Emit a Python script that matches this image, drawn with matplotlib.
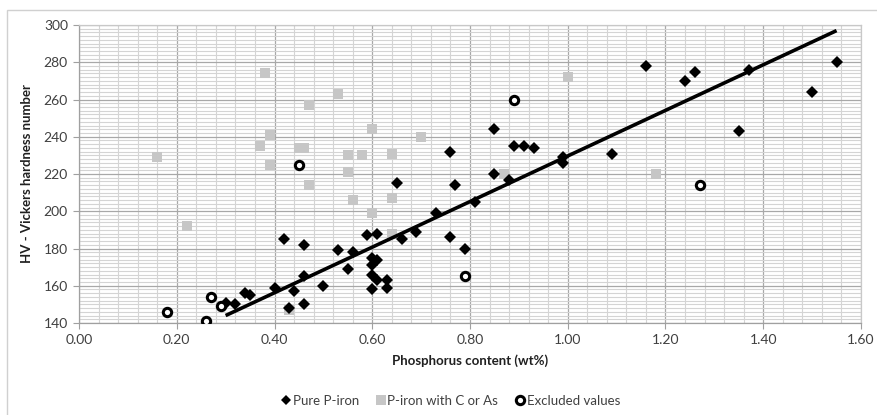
import matplotlib
matplotlib.use("Agg")
import matplotlib.pyplot as plt
from matplotlib.patches import Rectangle
from matplotlib.ticker import MultipleLocator, FormatStrFormatter
from matplotlib.lines import Line2D

# ---- data ----
pure_x = [0.30, 0.32, 0.34, 0.35, 0.40, 0.42, 0.43, 0.44, 0.46, 0.46, 0.46, 0.50,
          0.53, 0.55, 0.56, 0.59, 0.60, 0.60, 0.60, 0.60, 0.61, 0.61, 0.61, 0.63,
          0.63, 0.65, 0.66, 0.69, 0.73, 0.76, 0.76, 0.77, 0.79, 0.81, 0.85, 0.85,
          0.88, 0.89, 0.91, 0.93, 0.99, 0.99, 1.09, 1.16, 1.24, 1.26, 1.35, 1.37,
          1.50, 1.55]
pure_y = [151, 150, 156, 155, 159, 185, 148, 157, 182, 165, 150, 160,
          179, 169, 178, 187, 175, 171, 166, 158, 188, 174, 163, 163,
          159, 215, 185, 189, 199, 186, 232, 214, 180, 205, 244, 220,
          217, 235, 235, 234, 229, 226, 231, 278, 270, 275, 243, 276,
          264, 280]

carb_x = [0.16, 0.22, 0.37, 0.38, 0.39, 0.39, 0.43, 0.45, 0.46, 0.47, 0.47, 0.53,
          0.55, 0.55, 0.56, 0.58, 0.60, 0.60, 0.64, 0.64, 0.64, 0.70, 0.87, 1.00,
          1.18]
carb_y = [229, 192, 235, 274, 241, 225, 147, 234, 234, 257, 214, 263,
          230, 221, 206, 230, 244, 199, 231, 207, 188, 240, 220, 272,
          220]

excl_x = [0.18, 0.26, 0.27, 0.29, 0.45, 0.79, 0.89, 1.27]
excl_y = [146, 141, 154, 149, 225, 165, 260, 214]

trend_x = [0.30, 1.55]
trend_y = [144, 297]

x_ticks = [0.00, 0.20, 0.40, 0.60, 0.80, 1.00, 1.20, 1.40, 1.60]
y_ticks = [140, 160, 180, 200, 220, 240, 260, 280, 300]

legend_labels = ["Pure P-iron", "P-iron with C or As", "Excluded values"]
x_label = "Phosphorus content (wt%)"
y_label = "HV - Vickers hardness number"

# ---- figure ----
plt.rcParams['font.family'] = ['Lato', 'DejaVu Sans']
W, H = 878, 415
fig = plt.figure(figsize=(W / 100, H / 100), dpi=100)
ax = fig.add_axes([79 / W, 1 - 323 / H, (861 - 79) / W, (323 - 25) / H])

# chart area border
fig.patches.append(Rectangle((7 / W, -0.2), 1.2, 1.2 - 10 / H, transform=fig.transFigure,
                             fill=False, edgecolor='#d0d0d0', linewidth=1.0))

ax.set_xlim(0, 1.6)
ax.set_ylim(140, 300)
ax.xaxis.set_minor_locator(MultipleLocator(0.04))
ax.yaxis.set_minor_locator(MultipleLocator(2))
ax.set_xticks(x_ticks)
ax.set_yticks(y_ticks)
ax.xaxis.set_major_formatter(FormatStrFormatter('%.2f'))

ax.grid(which='major', color='#a8a8a8', linewidth=0.9)
ax.grid(which='minor', color='#d4d4d4', linewidth=0.8)
ax.set_axisbelow(True)

for s in ax.spines.values():
    s.set_color('#c8c8c8')
    s.set_linewidth(0.9)
ax.spines['left'].set_color('#a0a0a0')
ax.spines['bottom'].set_color('#a0a0a0')

ax.tick_params(which='major', length=4, color='#a0a0a0', labelsize=10,
               labelcolor='#404040', pad=4)
ax.tick_params(which='minor', length=0)

ax.plot(carb_x, carb_y, linestyle='none', marker='s', markersize=7.2,
        color='#c6c6c6', markeredgewidth=0, zorder=3)
ax.plot(pure_x, pure_y, linestyle='none', marker='D', markersize=6.5,
        color='black', markeredgewidth=0, zorder=4)
ax.plot(excl_x, excl_y, linestyle='none', marker='o', markersize=6,
        markerfacecolor='white', markeredgecolor='black', markeredgewidth=2.2, zorder=5)
ax.plot(trend_x, trend_y, color='black', linewidth=2.6, solid_capstyle='butt', zorder=6)

ax.set_xlabel(x_label, fontsize=9.5, fontweight='bold', color='#202020', labelpad=6)
ax.set_ylabel(y_label, fontsize=9.5, fontweight='bold', color='#202020', labelpad=8)

handles = [
    Line2D([], [], linestyle='none', marker='D', markersize=5, color='black', markeredgewidth=0),
    Line2D([], [], linestyle='none', marker='s', markersize=7.2, color='#c6c6c6', markeredgewidth=0),
    Line2D([], [], linestyle='none', marker='o', markersize=6, markerfacecolor='white',
           markeredgecolor='black', markeredgewidth=2.2),
]
fig.legend(handles, legend_labels, loc='center', bbox_to_anchor=(450 / W, 1 - 401 / H),
           ncol=3, frameon=False, fontsize=9.5, handletextpad=0.05, columnspacing=1.2,
           handlelength=0.9, labelcolor='#404040')

fig.savefig('out.png', dpi=100)
